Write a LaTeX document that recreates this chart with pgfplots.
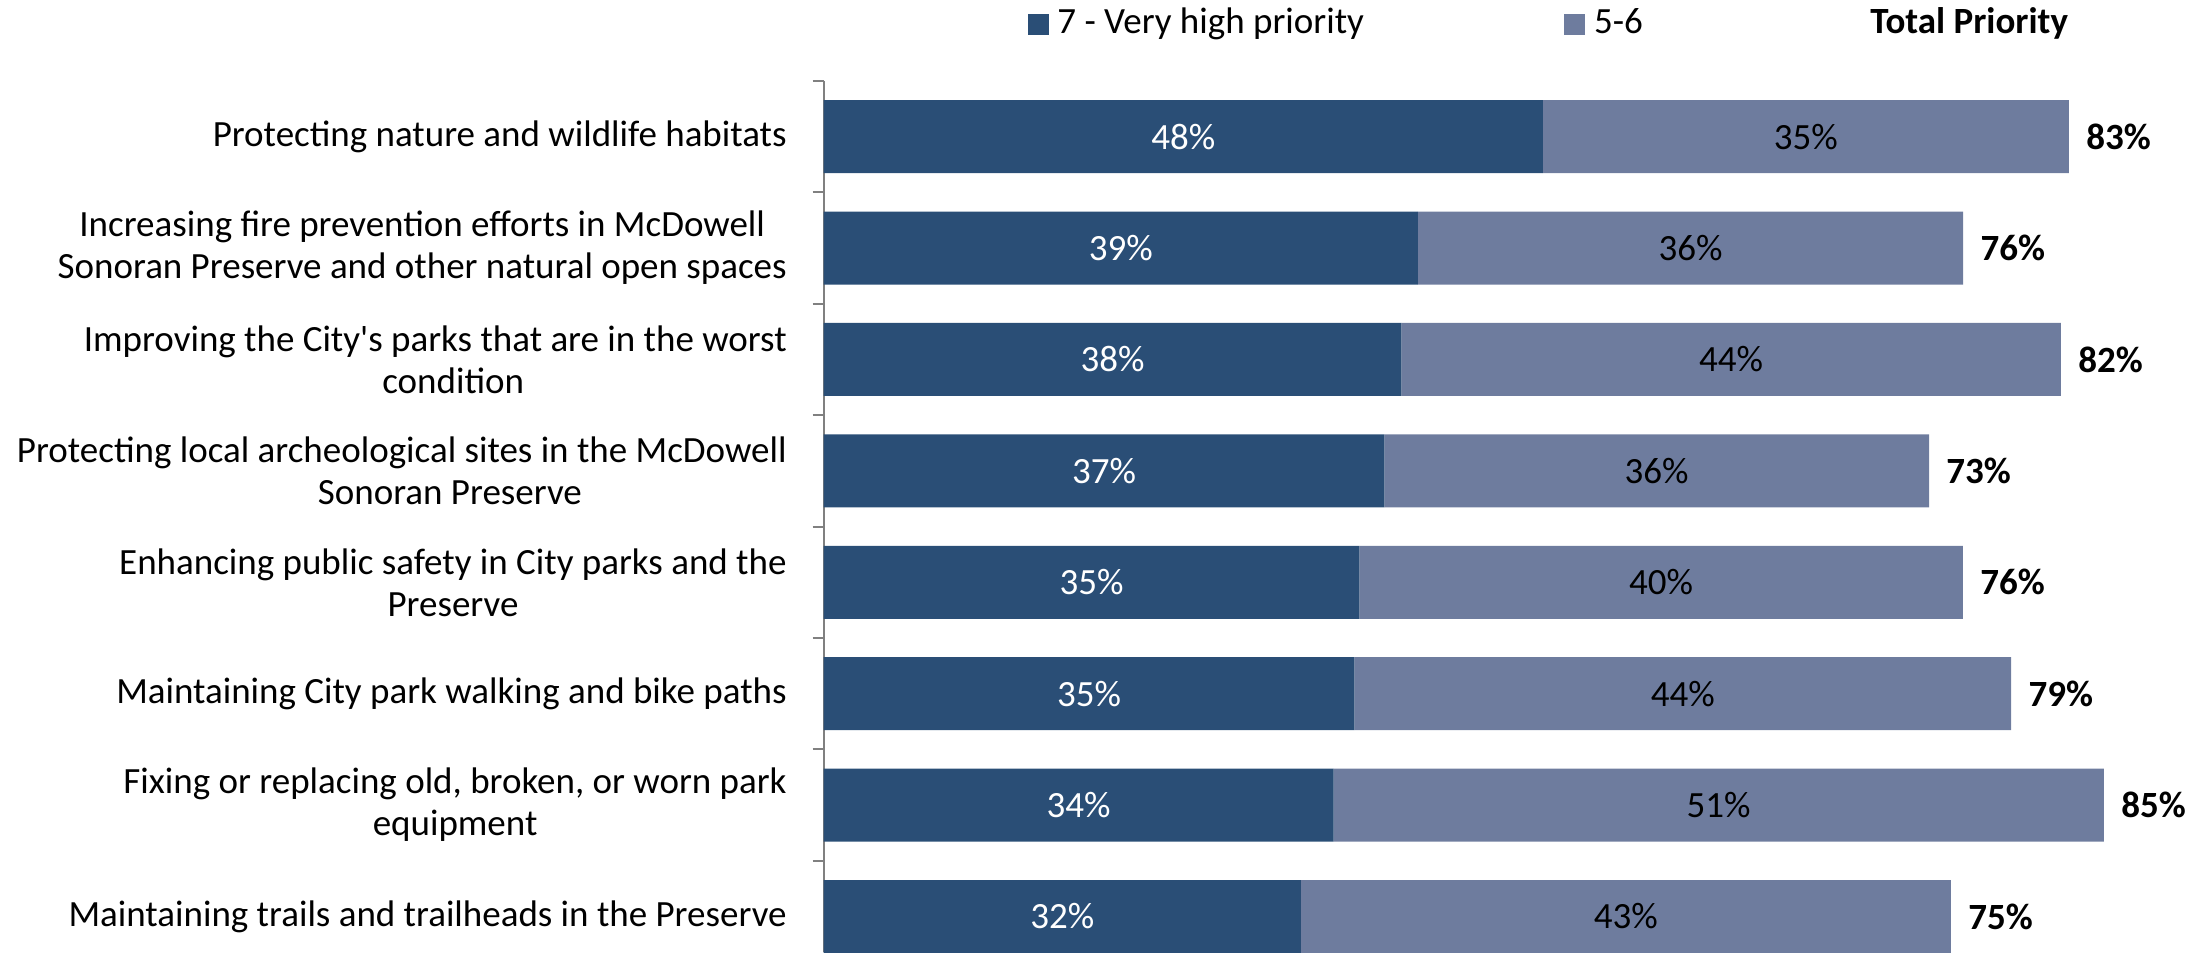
\documentclass[border=0pt]{standalone}
\usepackage{pgfplots}
\pgfplotsset{compat=1.18}
\usepackage{pgfplotstable}
\usepackage{fontspec}
\setmainfont{Carlito}
\definecolor{darkbar}{RGB}{42,78,118}
\definecolor{lightbar}{RGB}{110,124,158}
\definecolor{axisgray}{RGB}{128,128,128}

\pgfplotstableread{
idx dark light total dlab llab tlab
0 47.95 35.07 83.02 48 35 83
1 39.62 36.35 75.97 39 36 76
2 38.51 43.98 82.49 38 44 82
3 37.38 36.31 73.69 37 36 73
4 35.71 40.24 75.95 35 40 76
5 35.38 43.79 79.17 35 44 79
6 33.99 51.36 85.35 34 51 85
7 31.82 43.33 75.15 32 43 75
}\datatable

\pgfplotsset{
  common/.style={
    at={(0pt,0pt)}, anchor=south west,
    scale only axis,
    width=689.15pt, height=435.52pt,
    xmin=0, xmax=91.89,
    ymin=-0.5, ymax=7.319,
    y dir=reverse,
  }
}

\begin{document}
\begin{tikzpicture}[font=\fontsize{18.5pt}{21pt}\selectfont]
\path (-411.85pt,0pt) rectangle (689.15pt,476.02pt);
\begin{axis}[
  common,
  xbar stacked,
  bar width=36.5pt,
  axis x line=none,
  axis y line*=left,
  y axis line style={-, draw=axisgray, line width=1pt},
  ytick={0,...,7},
  yticklabels={
    {Protecting nature and wildlife habitats},
    {Increasing fire prevention efforts in McDowell\\Sonoran Preserve and other natural open spaces},
    {Improving the City\textquotesingle s parks that are in the worst\\\hspace*{18pt}condition},
    {Protecting local archeological sites in the McDowell\\\hspace*{48pt}Sonoran Preserve},
    {Enhancing public safety in City parks and the\\Preserve},
    {Maintaining City park walking and bike paths},
    {Fixing or replacing old, broken, or worn park\\equipment},
    {Maintaining trails and trailheads in the Preserve}
  },
  major tick length=0pt,
  minor ytick={-0.5,0.5,...,6.5},
  minor tick length=5.5pt,
  tick align=outside,
  minor tick style={draw=axisgray, line width=1pt},
  yticklabel style={align=center, anchor=east, inner sep=0pt, xshift=-18.3pt,
    font=\fontsize{18.5pt}{21pt}\selectfont},
  point meta=explicit symbolic,
  nodes near coords={\pgfplotspointmeta\%},
  every node near coord/.append style={anchor=center, inner sep=0pt,
    font=\fontsize{18.5pt}{21pt}\selectfont},
]
\addplot[fill=darkbar, draw=none,
  every node near coord/.append style={text=white}]
  table[x=dark, y=idx, meta=dlab]{\datatable};
\addplot[fill=lightbar, draw=none,
  every node near coord/.append style={text=black}]
  table[x=light, y=idx, meta=llab]{\datatable};
\end{axis}
\begin{axis}[
  common,
  hide axis,
  point meta=explicit symbolic,
]
\addplot[draw=none, mark=none, only marks,
  nodes near coords={\textbf{\pgfplotspointmeta\%}},
  every node near coord/.append style={anchor=west, inner sep=0pt, xshift=8.5pt, text=black,
    font=\fontsize{18.5pt}{21pt}\selectfont}]
  table[x=total, y=idx, meta=tlab]{\datatable};
\end{axis}
% legend
\fill[darkbar] (102.15pt,458.65pt) rectangle ++(10.5pt,10.5pt);
\node[anchor=base west, inner sep=0pt] at (116.65pt,459.5pt) {7 - Very high priority};
\fill[lightbar] (370.0pt,458.65pt) rectangle ++(10.5pt,10.5pt);
\node[anchor=base west, inner sep=0pt] at (385.0pt,459.5pt) {5-6};
\node[anchor=base west, inner sep=0pt] at (523.15pt,459.5pt) {\textbf{Total Priority}};
\end{tikzpicture}
\end{document}
